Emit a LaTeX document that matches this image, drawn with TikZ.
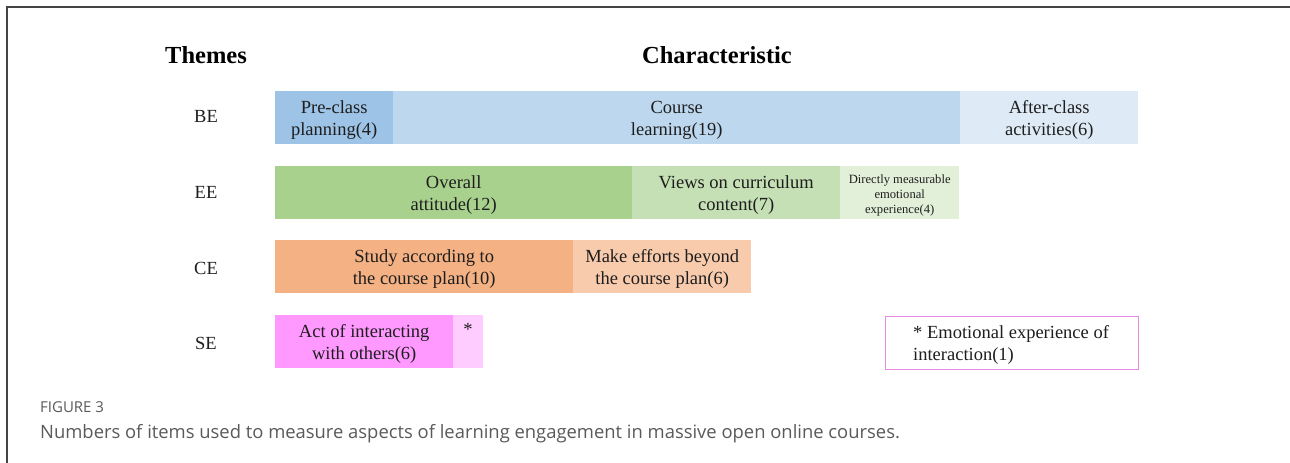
\documentclass[tikz,border=0pt]{standalone}
\usepackage{fontspec}
\setmainfont{Liberation Serif}
\newfontfamily\capfont{Open Sans}
\usetikzlibrary{positioning}

\definecolor{bluedark}{HTML}{9DC3E6}
\definecolor{bluemid}{HTML}{BDD7EE}
\definecolor{bluelight}{HTML}{DEEBF7}
\definecolor{greendark}{HTML}{A9D18E}
\definecolor{greenmid}{HTML}{C5E0B4}
\definecolor{greenlight}{HTML}{E2F0D9}
\definecolor{orangedark}{HTML}{F4B183}
\definecolor{orangelight}{HTML}{F8CBAD}
\definecolor{pinkdark}{HTML}{FF99FF}
\definecolor{pinklight}{HTML}{FFCCFF}
\definecolor{pinkline}{HTML}{E98BE6}
\definecolor{textdark}{HTML}{1E1E1E}
\definecolor{capgray}{HTML}{5A5A5A}
\definecolor{framegray}{HTML}{444444}

\tikzset{
  heading/.style={font=\bfseries\fontsize{24.5}{28}\selectfont, text=black, inner sep=0pt},
  theme/.style={font=\fontsize{18.5}{22}\selectfont, text=textdark, inner sep=0pt},
  bar/.style={draw=none, inner sep=0pt, anchor=north west, minimum height=53pt},
  barlabel/.style={align=center, inner sep=0pt, yshift=-2.5pt, text=textdark,
    font=\fontsize{18.5}{22}\selectfont},
  smalllabel/.style={barlabel, font=\fontsize{12.6}{15}\selectfont},
  capline/.style={font=\capfont\fontsize{18.4}{22}\selectfont, text=capgray, anchor=base west, inner sep=0pt},
}

\begin{document}
\begin{tikzpicture}[x=1pt, y=-1pt]
  \useasboundingbox (0,0) rectangle (1290,463);
  \fill[white] (0,0) rectangle (1290,463);

  % frame lines (top and left)
  \draw[framegray, line width=1.6pt] (7,463) -- (7,7) -- (1290,7);

  % headings
  \node[heading] (hthemes) at (206,55) {Themes};
  \node[heading] (hchar) at (717,55) {Characteristic};

  % theme labels
  \node[theme] (tbe) at (206,116) {BE};
  \node[theme] (tee) at (206,192) {EE};
  \node[theme] (tce) at (206,268) {CE};
  \node[theme] (tse) at (206,343) {SE};

  % BE row
  \node[bar, fill=bluedark, minimum width=118pt,
        label={[barlabel]center:Pre-class\\planning(4)}] (pre) at (275,91) {};
  \node[bar, fill=bluemid, minimum width=567pt,
        label={[barlabel]center:Course\\learning(19)}] (course) at (393,91) {};
  \node[bar, fill=bluelight, minimum width=178pt,
        label={[barlabel]center:After-class\\activities(6)}] (after) at (960,91) {};

  % EE row
  \node[bar, fill=greendark, minimum width=357pt,
        label={[barlabel]center:Overall\\attitude(12)}] (overall) at (275,166) {};
  \node[bar, fill=greenmid, minimum width=208pt,
        label={[barlabel]center:Views on curriculum\\content(7)}] (views) at (632,166) {};
  \node[bar, fill=greenlight, minimum width=119pt,
        label={[smalllabel]center:Directly measurable\\emotional\\experience(4)}] (direct) at (840,166) {};

  % CE row
  \node[bar, fill=orangedark, minimum width=298pt,
        label={[barlabel]center:Study according to\\the course plan(10)}] (study) at (275,240) {};
  \node[bar, fill=orangelight, minimum width=178pt,
        label={[barlabel]center:Make efforts beyond\\the course plan(6)}] (beyond) at (573,240) {};

  % SE row
  \node[bar, fill=pinkdark, minimum width=178pt,
        label={[barlabel]center:Act of interacting\\with others(6)}] (act) at (275,315) {};
  \node[bar, fill=pinklight, minimum width=30pt] (star) at (453,315) {};
  \node[theme, anchor=north] (starmark) at (468,323) {*};

  % legend box
  \node[draw=pinkline, line width=1.2pt, anchor=north west, minimum width=253pt,
        minimum height=53pt, inner sep=0pt] (legend) at (885,316) {};
  \node[theme, anchor=west, align=left] (legendtext) at (913,345)
        {* Emotional experience of\\interaction(1)};

  % caption
  \node[capline, font=\capfont\fontsize{15}{18}\selectfont] (figlabel) at (40,412) {FIGURE 3};
  \node[capline] (captext) at (40,438)
        {Numbers of items used to measure aspects of learning engagement in massive open online courses.};
\end{tikzpicture}
\end{document}
